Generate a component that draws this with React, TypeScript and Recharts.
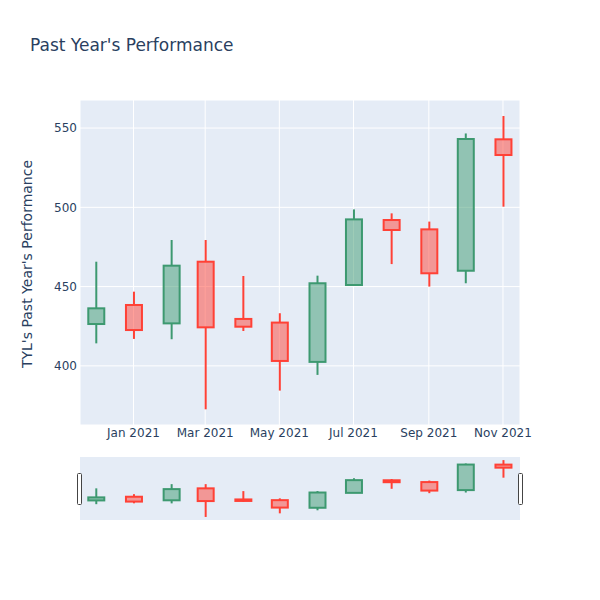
import { ComposedChart, Bar, XAxis, YAxis, CartesianGrid } from 'recharts';

const months = [
  '2020-12-01', '2021-01-01', '2021-02-01', '2021-03-01', '2021-04-01', '2021-05-01',
  '2021-06-01', '2021-07-01', '2021-08-01', '2021-09-01', '2021-10-01', '2021-11-01',
];
const opens = [426.4, 438.4, 426.8, 465.7, 429.6, 427.3, 402.5, 451.0, 492.0, 486.1, 460.0, 542.9];
const highs = [465.7, 446.8, 479.4, 479.4, 456.7, 433.2, 456.9, 498.7, 496.2, 491.0, 546.6, 557.6];
const lows = [414.2, 417.0, 416.8, 372.6, 422.0, 384.4, 394.3, 451.0, 464.2, 450.0, 452.1, 500.4];
const closes = [436.3, 422.6, 463.2, 424.3, 424.7, 403.1, 452.1, 492.4, 485.7, 458.4, 543.1, 533.0];

const xTicks = ['2021-01-01', '2021-03-01', '2021-05-01', '2021-07-01', '2021-09-01', '2021-11-01'];
const xTickLabels = ['Jan 2021', 'Mar 2021', 'May 2021', 'Jul 2021', 'Sep 2021', 'Nov 2021'];
const yTicks = [400, 450, 500, 550];

const toTime = (d: string) => new Date(d + 'T00:00:00Z').getTime();

const data = months.map((m, i) => ({
  date: toTime(m),
  open: opens[i],
  high: highs[i],
  low: lows[i],
  close: closes[i],
  range: [lows[i], highs[i]],
}));

const xDomain = [toTime('2020-11-18'), toTime('2021-11-15')];
const yDomain = [362.7, 567.7];

const UP = '#3D9970';
const DOWN = '#FF4136';
const FONT = '"DejaVu Sans", verdana, arial, sans-serif';
const TEXT = '#2a3f5f';

function Candle(props: any) {
  const { x, y, width, height, payload } = props;
  if (payload == null || x == null) return null;
  const top = Math.min(y, y + height);
  const bottom = Math.max(y, y + height);
  const { open, high, low, close } = payload;
  const px = (v: number) => top + ((high - v) / (high - low)) * (bottom - top);
  const cx = x + width / 2;
  const up = close >= open;
  const color = up ? UP : DOWN;
  const bTop = px(Math.max(open, close));
  const bBot = px(Math.min(open, close));
  const bw = props.bodyWidth ?? 16;
  const lw = props.lineW ?? 2;
  return (
    <g>
      <line x1={cx} x2={cx} y1={top} y2={bTop} stroke={color} strokeWidth={lw} />
      <line x1={cx} x2={cx} y1={bBot} y2={bottom} stroke={color} strokeWidth={lw} />
      <rect
        x={cx - bw / 2}
        y={bTop}
        width={bw}
        height={Math.max(bBot - bTop, 0.5)}
        fill={color}
        fillOpacity={0.5}
        stroke={color}
        strokeWidth={lw}
      />
    </g>
  );
}

function fmtTick(v: number) {
  const idx = xTicks.findIndex((t) => toTime(t) === v);
  return idx >= 0 ? xTickLabels[idx] : '';
}

export default function App() {
  return (
    <div style={{ position: 'absolute', left: 0, top: 0, width: 600, height: 600, background: '#fff', fontFamily: FONT }}>
      <svg width={600} height={100} style={{ position: 'absolute', left: 0, top: 0 }}>
        <text x={30} y={50.5} fontSize={17} fill={TEXT} fontFamily={FONT}>
          Past Year's Performance
        </text>
      </svg>
      <svg width={60} height={600} style={{ position: 'absolute', left: 0, top: 0 }}>
        <text
          x={0}
          y={0}
          transform="translate(32,264) rotate(-90)"
          textAnchor="middle"
          fontSize={14}
          fill={TEXT}
          fontFamily={FONT}
        >
          TYL's Past Year's Performance
        </text>
      </svg>
      <div style={{ position: 'absolute', left: 0, top: 0 }}>
        <ComposedChart width={600} height={450} data={data} margin={{ top: 100, right: 80, bottom: 0, left: 0 }}>
          <CartesianGrid fill="#E5ECF6" stroke="#ffffff" strokeWidth={1} />
          <XAxis
            dataKey="date"
            type="number"
            scale="time"
            domain={xDomain}
            ticks={xTicks.map(toTime)}
            tickFormatter={fmtTick}
            height={25}
            axisLine={false}
            tickLine={false}
            tickSize={2}
            tickMargin={1}
            tick={{ fill: TEXT, fontSize: 12, fontFamily: FONT }}
            allowDataOverflow
          />
          <YAxis
            domain={yDomain}
            ticks={yTicks}
            width={80}
            axisLine={false}
            tickLine={false}
            tickSize={2}
            tickMargin={1}
            tick={{ fill: TEXT, fontSize: 12, fontFamily: FONT }}
            allowDataOverflow
          />
          <Bar dataKey="range" barSize={17} isAnimationActive={false} shape={<Candle bodyWidth={16} lineW={2} />} />
        </ComposedChart>
      </div>
      <div style={{ position: 'absolute', left: 0, top: 457 }}>
        <ComposedChart width={600} height={63} data={data} margin={{ top: 0, right: 80, bottom: 0, left: 80 }}>
          <CartesianGrid fill="#E5ECF6" stroke="none" horizontal={false} vertical={false} />
          <XAxis dataKey="date" type="number" scale="time" domain={xDomain} hide allowDataOverflow />
          <YAxis domain={yDomain} hide allowDataOverflow />
          <Bar dataKey="range" barSize={17} isAnimationActive={false} shape={<Candle bodyWidth={16} lineW={2} />} />
        </ComposedChart>
      </div>
      <svg width={600} height={600} style={{ position: 'absolute', left: 0, top: 0, pointerEvents: 'none' }}>
        <rect x={77.5} y={473.5} width={4} height={31} rx={1} fill="#fff" stroke="#444" strokeWidth={1} />
        <rect x={518.5} y={473.5} width={4} height={31} rx={1} fill="#fff" stroke="#444" strokeWidth={1} />
      </svg>
    </div>
  );
}
